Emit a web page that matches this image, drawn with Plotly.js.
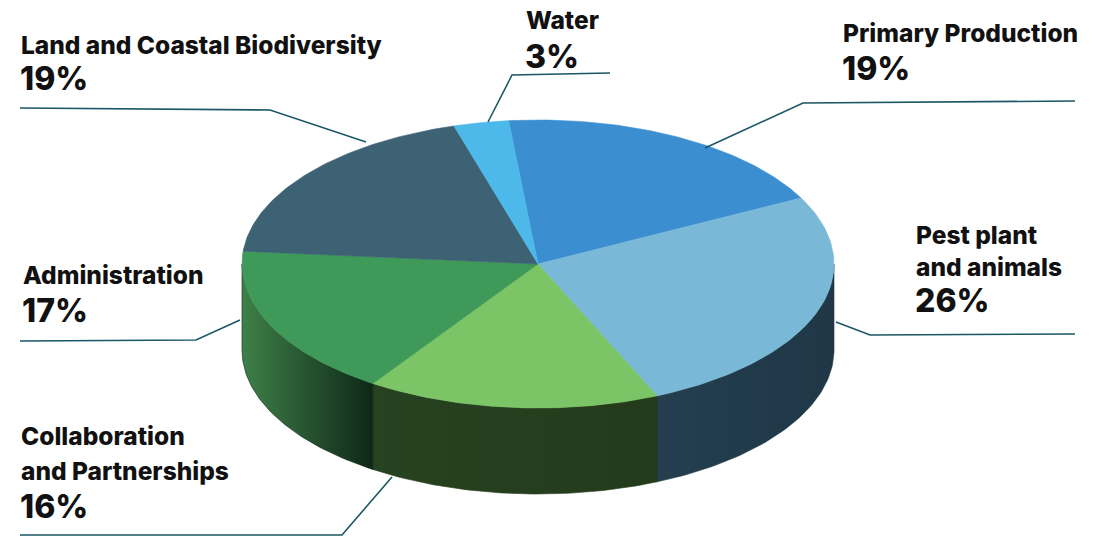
<!DOCTYPE html>
<html>
<head>
<meta charset="utf-8">
<script src="https://cdn.plot.ly/plotly-3.0.1.min.js"></script>
<style>html,body{margin:0;padding:0;background:#fff;}#chart{width:1099px;height:536px;}</style>
</head>
<body>
<div id="chart"></div>
<script>
// ---- data ----
var categories = ["Primary Production", "Pest plant and animals", "Collaboration and Partnerships", "Administration", "Land and Coastal Biodiversity", "Water"];
var labelLines = [["Primary Production"], ["Pest plant", "and animals"], ["Collaboration", "and Partnerships"], ["Administration"], ["Land and Coastal Biodiversity"], ["Water"]];
var values = [19, 26, 16, 17, 19, 3];
var topColors = ["#3b8fd0", "#79b9d7", "#7bc566", "#3f9a5a", "#3d6273", "#4db9ea"];
var sideColorsA = ["#2a4a5c", "#253f50", "#274220", "#3f8049", "#2f4d5a", "#2e6f8c"];
var sideColorsB = ["#1e3646", "#1f3747", "#243b1b", "#0e2716", "#2f4d5a", "#2e6f8c"];

// ---- geometry (layout) ----
var cx = 538, cy = 264, rx = 296, ry = 144, depth = 86, startAngle = -5.7;
function px(t) { return cx + rx * Math.sin(t * Math.PI / 180); }
function py(t) { return cy - ry * Math.cos(t * Math.PI / 180); }

var total = values.reduce(function (a, b) { return a + b; }, 0);
var angles = [];
var acc = startAngle;
values.forEach(function (v) { var a0 = acc; acc += v / total * 360; angles.push([a0, acc]); });

var traces = [];
// sides (front half only)
angles.forEach(function (ang, i) {
  var lo = Math.max(ang[0], 90), hi = Math.min(ang[1], 270);
  if (hi <= lo) return;
  var xs = [], ys = [], n = 60, k, t;
  for (k = 0; k <= n; k++) { t = lo + (hi - lo) * k / n; xs.push(px(t)); ys.push(py(t)); }
  for (k = n; k >= 0; k--) { t = lo + (hi - lo) * k / n; xs.push(px(t)); ys.push(py(t) + depth); }
  xs.push(xs[0]); ys.push(ys[0]);
  var xmin = Math.min.apply(null, xs), xmax = Math.max.apply(null, xs);
  traces.push({
    type: "scatter", mode: "lines", x: xs, y: ys, fill: "toself",
    line: { width: 0.6, color: sideColorsB[i] },
    fillgradient: { type: "horizontal", start: xmin, stop: xmax,
      colorscale: [[0, sideColorsA[i]], [1, sideColorsB[i]]] },
    hoverinfo: "skip", showlegend: false
  });
});
// top faces
angles.forEach(function (ang, i) {
  var xs = [cx], ys = [cy], n = 80, k, t;
  for (k = 0; k <= n; k++) { t = ang[0] + (ang[1] - ang[0]) * k / n; xs.push(px(t)); ys.push(py(t)); }
  xs.push(cx); ys.push(cy);
  traces.push({
    type: "scatter", mode: "lines", x: xs, y: ys, fill: "toself",
    fillcolor: topColors[i], line: { width: 0.6, color: topColors[i] },
    name: categories[i], text: categories[i] + ": " + values[i] + "%",
    hoverinfo: "text", hoveron: "fills", showlegend: false
  });
});

// label placement (layout positions): x, first line y, line spacing, percent y
var labelPos = [
  { x: 841, y: 33, dy: 35, py: 68 },
  { x: 914, y: 235, dy: 32, py: 300 },
  { x: 19, y: 436, dy: 35, py: 506 },
  { x: 21, y: 275, dy: 35, py: 310 },
  { x: 19, y: 45, dy: 35, py: 78 },
  { x: 524, y: 20, dy: 35, py: 56 }
];
var leader = [
  [[705, 148], [803, 103], [1075, 101]],
  [[836, 322], [870, 335], [1075, 334]],
  [[392, 477], [342, 535], [20, 535]],
  [[240, 320], [196, 340], [20, 341]],
  [[366, 142], [270, 110], [20, 108]],
  [[488, 122], [512, 75], [610, 73]]
];

var annotations = [], shapes = [];
var fam = "Inter, 'Open Sans', sans-serif";
categories.forEach(function (c, i) {
  var p = labelPos[i];
  labelLines[i].forEach(function (line, j) {
    annotations.push({ x: p.x, y: p.y + j * p.dy, xref: "x", yref: "y", xanchor: "left", yanchor: "middle", align: "left",
      text: line, showarrow: false,
      font: { family: fam, size: 24.5, color: "#111111", weight: 800 } });
  });
  annotations.push({ x: p.x - 1, y: p.py, xref: "x", yref: "y", xanchor: "left", yanchor: "middle", align: "left",
    text: values[i] + "%", showarrow: false,
    font: { family: fam, size: 32, color: "#111111", weight: 800 } });
  var L = leader[i];
  shapes.push({ type: "path", xref: "x", yref: "y",
    path: "M" + L[0][0] + "," + L[0][1] + " L" + L[1][0] + "," + L[1][1] + " L" + L[2][0] + "," + L[2][1],
    line: { color: "#1b5766", width: 1.6 } });
});

var layout = {
  width: 1099, height: 536,
  margin: { l: 0, r: 0, t: 0, b: 0 },
  paper_bgcolor: "#ffffff", plot_bgcolor: "#ffffff",
  xaxis: { range: [0, 1099], visible: false, fixedrange: true },
  yaxis: { range: [536, 0], visible: false, fixedrange: true },
  showlegend: false,
  annotations: annotations,
  shapes: shapes
};
Plotly.newPlot("chart", traces, layout, { displayModeBar: false, staticPlot: true });
</script>
</body>
</html>
